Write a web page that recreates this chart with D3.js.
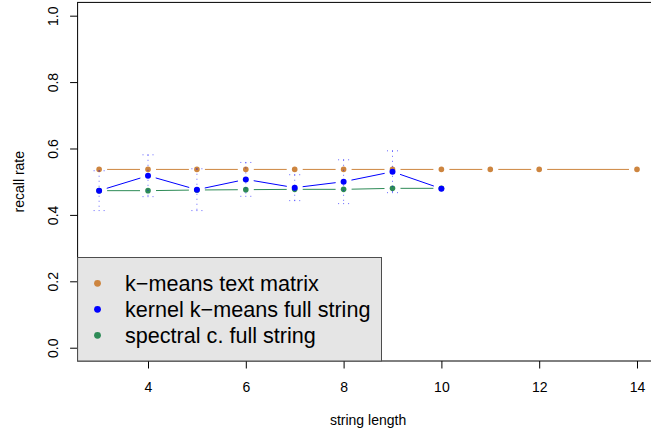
<!DOCTYPE html>
<html>
<head>
<meta charset="utf-8">
<script src="https://cdn.jsdelivr.net/npm/d3@7"></script>
<style>
  body { margin: 0; background: #fff; }
  svg { display: block; font-family: "Liberation Sans", Arial, sans-serif; }
</style>
</head>
<body>
<div id="chart"></div>
<script>
// data
const kmeansX = [3, 4, 5, 6, 7, 8, 9, 10, 11, 12, 14];
const kmeansY = [0.537, 0.537, 0.537, 0.537, 0.537, 0.537, 0.537, 0.537, 0.537, 0.537, 0.537];

const kernelX = [3, 4, 5, 6, 7, 8, 9, 10];
const kernelY = [0.473, 0.518, 0.476, 0.507, 0.482, 0.500, 0.530, 0.479];
const kernelSd = [0.060, 0.063, 0.063, 0.051, 0.039, 0.066, 0.063, 0];

const spectralX = [3, 4, 5, 6, 7, 8, 9, 10];
const spectralY = [0.473, 0.473, 0.475, 0.476, 0.477, 0.477, 0.480, 0.480];

const xTicks = [4, 6, 8, 10, 12, 14];
const yTicks = [0, 0.2, 0.4, 0.6, 0.8, 1.0];

const legendLabels = ["k\u2212means text matrix", "kernel k\u2212means full string", "spectral c. full string"];
const colors = ["#CD853F", "#0000FF", "#2E8B57"];

const W = 651, H = 437;
const plot = {left: 77.6, right: 658.5, top: 2.4, bottom: 361};

const svg = d3.select("#chart").append("svg")
    .attr("width", W)
    .attr("height", H);

// R-style scales (4% padding)
const xScale = d3.scaleLinear().domain([2.56, 14.44]).range([plot.left, plot.right]);
const yScale = d3.scaleLinear().domain([-0.04, 1.04]).range([plot.bottom, plot.top]);

// Axes
const xAxis = svg.append("g")
    .attr("transform", `translate(0,${plot.bottom})`)
    .call(d3.axisBottom(xScale).tickValues(xTicks).tickSize(7.5).tickFormat(d3.format("d")));
xAxis.select(".domain").remove();
xAxis.selectAll("text").style("font-size", "14px").attr("fill", "#000")
    .attr("dy", null).attr("y", 30.5);
xAxis.selectAll("line").attr("stroke", "#000");

const yAxis = svg.append("g")
    .attr("transform", `translate(${plot.left},0)`)
    .call(d3.axisLeft(yScale).tickValues(yTicks).tickSize(7.5).tickFormat(d3.format(".1f")));
yAxis.select(".domain").remove();
yAxis.selectAll("line").attr("stroke", "#000");
yAxis.selectAll("text")
    .style("font-size", "14px")
    .attr("fill", "#000")
    .attr("x", null).attr("dy", null)
    .attr("text-anchor", "middle")
    .attr("transform", "translate(-19.5,0) rotate(-90)");

// Axis labels
svg.append("text")
    .attr("x", (plot.left + plot.right) / 2)
    .attr("y", 425)
    .attr("text-anchor", "middle")
    .style("font-size", "14px")
    .text("string length");

svg.append("text")
    .attr("transform", `translate(24,${(plot.top + plot.bottom) / 2}) rotate(-90)`)
    .attr("text-anchor", "middle")
    .style("font-size", "14px")
    .text("recall rate");

// type = "b" lines: segments with a gap round each point
function drawSeries(xs, ys, color, r) {
  const g = svg.append("g");
  const gap = 8;
  for (let i = 0; i < xs.length - 1; i++) {
    const x1 = xScale(xs[i]), y1 = yScale(ys[i]);
    const x2 = xScale(xs[i + 1]), y2 = yScale(ys[i + 1]);
    const len = Math.hypot(x2 - x1, y2 - y1);
    if (len <= 2 * gap) continue;
    const ux = (x2 - x1) / len, uy = (y2 - y1) / len;
    g.append("line")
        .attr("x1", x1 + ux * gap).attr("y1", y1 + uy * gap)
        .attr("x2", x2 - ux * gap).attr("y2", y2 - uy * gap)
        .attr("stroke", color)
        .attr("stroke-width", 1);
  }
  g.selectAll("circle")
      .data(xs.map((x, i) => ({x: x, y: ys[i]})))
      .join("circle")
      .attr("cx", d => xScale(d.x))
      .attr("cy", d => yScale(d.y))
      .attr("r", r)
      .attr("fill", color);
}

drawSeries(kmeansX, kmeansY, colors[0], 2.8);
drawSeries(spectralX, spectralY, colors[2], 2.8);

// dotted error bars for kernel k-means
const eb = svg.append("g")
    .attr("stroke", colors[1])
    .attr("stroke-opacity", 0.6)
    .attr("stroke-width", 1)
    .attr("stroke-dasharray", "1,4");
kernelX.forEach((x, i) => {
  const sd = kernelSd[i];
  if (sd <= 0) return;
  const cx = xScale(x);
  const top = yScale(kernelY[i] + sd), bot = yScale(kernelY[i] - sd);
  eb.append("line").attr("x1", cx).attr("x2", cx).attr("y1", top).attr("y2", bot);
  eb.append("line").attr("x1", cx - 5.5).attr("x2", cx + 5.5).attr("y1", top).attr("y2", top);
  eb.append("line").attr("x1", cx - 5.5).attr("x2", cx + 5.5).attr("y1", bot).attr("y2", bot);
});

drawSeries(kernelX, kernelY, colors[1], 3);

// plot box
svg.append("rect")
    .attr("x", plot.left).attr("y", plot.top)
    .attr("width", plot.right - plot.left)
    .attr("height", plot.bottom - plot.top)
    .attr("fill", "none")
    .attr("stroke", "#000")
    .attr("stroke-width", 1);

// legend, bottom left
const legend = svg.append("g");
legend.append("rect")
    .attr("x", plot.left).attr("y", 257.5)
    .attr("width", 381.5 - plot.left)
    .attr("height", plot.bottom - 257.5)
    .attr("fill", "#E5E5E5")
    .attr("stroke", "#4D4D4D")
    .attr("stroke-width", 1);

legendLabels.forEach((label, i) => {
  const cy = 283.3 + i * 26;
  legend.append("circle")
      .attr("cx", 97.5).attr("cy", cy)
      .attr("r", 3.4)
      .attr("fill", colors[i]);
  legend.append("text")
      .attr("x", 125).attr("y", cy + 7.5)
      .style("font-size", "21.6px")
      .attr("fill", "#000")
      .text(label);
});
</script>
</body>
</html>
